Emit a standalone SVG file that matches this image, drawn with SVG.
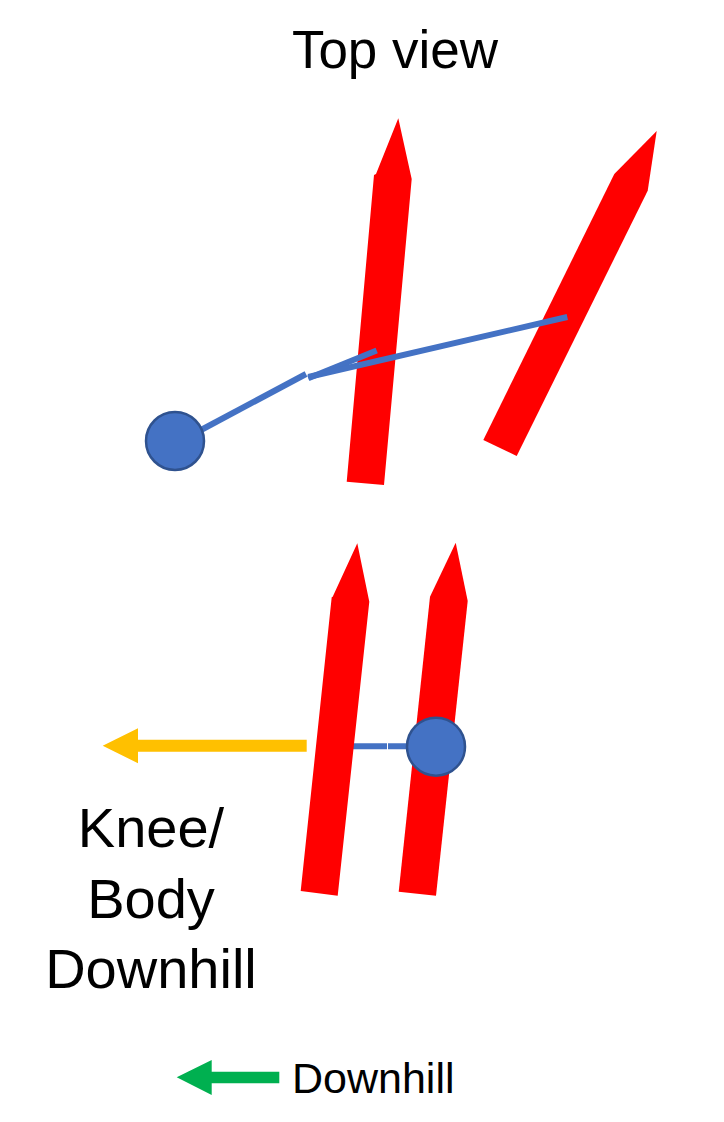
<svg xmlns="http://www.w3.org/2000/svg" width="724" height="1122" viewBox="0 0 724 1122">
<style>
.ski{fill:#FF0000}
.leg{stroke:#4472C4;stroke-width:6;fill:none}
.knee{fill:#4472C4;stroke:#2F528F;stroke-width:2.5}
.t{font-family:"Liberation Sans",Arial,sans-serif;fill:#000}
</style>
<rect width="724" height="1122" fill="#fff"/>
<text class="t" x="395" y="68" font-size="53" text-anchor="middle">Top view</text>
<g id="top-ski-left"><polygon class="ski" points="346.7,481.7 374,175 376,174 398.3,118.3 411.7,179 384,485"/></g>
<g id="top-ski-right"><polygon class="ski" points="483.3,440 614.3,174 656.7,131 647.7,190.7 516.7,456"/></g>
<g id="connectors">
<line class="leg" x1="201" y1="430" x2="306" y2="374"/>
<line class="leg" x1="308.3" y1="378.3" x2="376.7" y2="350.5"/>
<line class="leg" x1="308.3" y1="377" x2="567.3" y2="317"/>
<line class="leg" x1="338.3" y1="746.3" x2="387" y2="746.3"/>
<line class="leg" x1="388" y1="746.3" x2="436" y2="746.3"/>
</g>
<g id="top-knee"><circle class="knee" cx="175" cy="441" r="29"/></g>
<g id="bottom-ski-left"><polygon class="ski" points="300.7,891 331.7,597.3 332.7,596.7 357.3,543.3 369.3,601.7 337.7,895.7"/></g>
<g id="bottom-ski-right"><polygon class="ski" points="398.7,891.7 430,596.7 455.7,542.7 467.7,601 436,895.7"/></g>
<g id="bottom-knee"><circle class="knee" cx="436" cy="746.7" r="29"/></g>
<g id="knee-arrow"><polygon fill="#FFC000" points="306.7,739.7 138,739.7 138,728.3 102.7,745.7 138,763.3 138,751.7 306.7,751.7"/></g>
<g id="knee-label"><text class="t" font-size="56" text-anchor="middle"><tspan x="151" y="847">Knee/</tspan><tspan x="151" y="918">Body</tspan><tspan x="151" y="988">Downhill</tspan></text></g>
<g id="legend"><polygon fill="#00B050" points="279.3,1071.7 211.7,1071.7 211.7,1060 176.7,1077.3 211.7,1095 211.7,1083.3 279.3,1083.3"/>
<text class="t" x="292" y="1093" font-size="43">Downhill</text></g>
</svg>
